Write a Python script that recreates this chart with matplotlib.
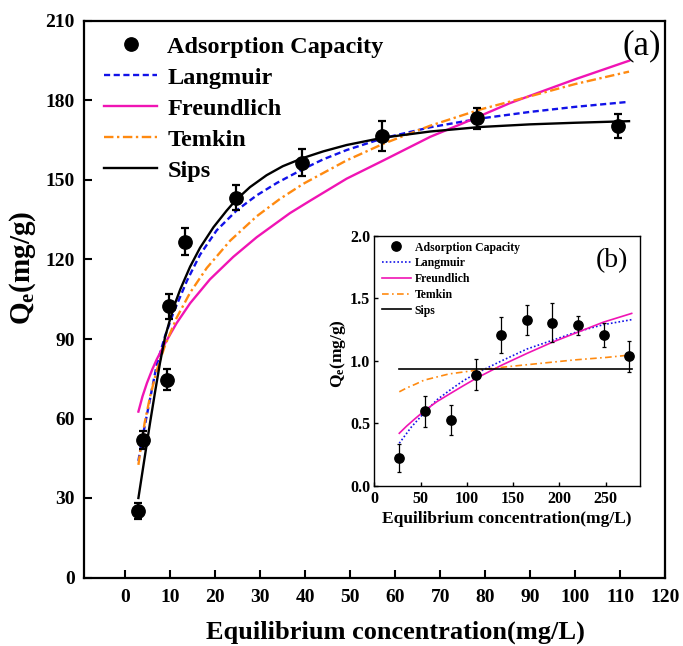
import matplotlib
matplotlib.use("Agg")
import matplotlib.pyplot as plt
from matplotlib.ticker import FormatStrFormatter

plt.rcParams['font.family'] = ['Liberation Serif', 'DejaVu Serif']
plt.rcParams['font.weight'] = 'bold'
plt.rcParams['mathtext.fontset'] = 'custom'
plt.rcParams['mathtext.rm'] = 'Liberation Serif'
plt.rcParams['mathtext.bf'] = 'Liberation Serif:bold'
plt.rcParams['mathtext.it'] = 'Liberation Serif:italic'

# ---------------- main panel (a) data ----------------
ce_a = [2.9, 4.0, 9.3, 9.7, 13.3, 24.5, 39.3, 57.0, 78.2, 109.5]
qe_a = [25.0, 51.9, 74.6, 102.3, 126.7, 143.3, 156.6, 166.6, 173.3, 170.3]
err_a = [3.0, 3.5, 4.0, 4.7, 5.0, 4.7, 5.2, 5.5, 4.0, 4.6]

lang_x_a = [2.9, 3.6, 4.4, 5.5, 7.0, 8.8, 10.7, 13.7, 16.6, 20.3, 24.8, 29.2, 33.7, 39.6,
            44.0, 49.2, 57.4, 67.8, 78.9, 90, 100, 112]
lang_y_a = [44, 51, 58, 67.5, 80.5, 91, 100, 112, 121.8, 131, 138.6, 144.2, 148.9, 154.2,
            157.8, 161.3, 165.8, 169.9, 173.2, 175.7, 177.6, 179.5]

freu_x_a = [2.9, 3.8, 4.8, 6.0, 7.0, 8.8, 11.4, 14.4, 18.8, 24.0, 29.2, 36.6, 41.0, 49.2,
            57.4, 67.8, 75.9, 85.5, 100, 112]
freu_y_a = [62.6, 68.3, 73.4, 78.6, 82.4, 88.3, 96.0, 103.5, 112.5, 121.0, 128.4, 137.5, 142.1,
            150.5, 157.4, 166.3, 172.0, 179.0, 188.0, 195.0]

temk_x_a = [2.9, 3.5, 4.3, 5.5, 7.0, 8.8, 11.4, 14.4, 18.1, 23.3, 29.2, 34.4, 39.6, 49.2,
            57.4, 67.8, 78.9, 90, 100, 112]
temk_y_a = [42.5, 50, 58.5, 68.3, 78.3, 87.5, 98, 107.5, 116.8, 127.1, 136.3, 142.9, 148.6,
            157.4, 163.7, 170.5, 176.6, 181.6, 186.2, 190.9]

sips_x_a = [2.9, 4.4, 5.5, 6.6, 7.7, 8.8, 10, 11, 12.2, 14.4, 16.6, 19.6, 22.5, 24.5,
            27.7, 31.4, 35, 39.5, 44, 49.2, 57.4, 67.8, 78.9, 90, 100, 112]
sips_y_a = [30, 46.5, 58.5, 70, 81, 90.5, 97.8, 103.2, 108.7, 117.3, 124.4, 132.2, 138.4, 142.3,
            147.3, 151.8, 155.2, 158.3, 160.8, 163.2, 166.0, 168.3, 170.0, 171.0, 171.6, 172.2]

xticks_a = list(range(0, 121, 10))
yticks_a = list(range(0, 211, 30))

# ---------------- inset panel (b) data ----------------
ce_b = [27, 54.7, 82.4, 109.5, 137.3, 164.7, 192.3, 220, 247.8, 275.2]
qe_b = [0.22, 0.595, 0.525, 0.888, 1.205, 1.325, 1.305, 1.285, 1.205, 1.035]
err_b = [0.113, 0.127, 0.12, 0.123, 0.144, 0.12, 0.155, 0.075, 0.097, 0.125]

lang_x_b = [27, 33, 40, 55, 68, 82.5, 96, 110, 137.5, 165, 192.5, 220, 247.5, 278]
lang_y_b = [0.34, 0.40, 0.47, 0.593, 0.69, 0.77, 0.84, 0.90, 1.0, 1.095, 1.165, 1.235, 1.29, 1.33]

freu_x_b = [27, 35, 45, 55, 68, 82.5, 96, 110, 137.5, 165, 192.5, 220, 247.5, 278]
freu_y_b = [0.42, 0.478, 0.543, 0.605, 0.675, 0.74, 0.80, 0.86, 0.965, 1.06, 1.15, 1.23, 1.31, 1.38]

temk_x_b = [27, 35, 45, 53.6, 80.6, 107.6, 143.6, 179.6, 215.5, 251.5, 278]
temk_y_b = [0.752, 0.783, 0.815, 0.845, 0.895, 0.922, 0.953, 0.98, 1.007, 1.028, 1.048]

sips_x_b = [27, 278]
sips_y_b = [0.935, 0.935]

xticks_b = [0, 50, 100, 150, 200, 250]
yticks_b = [0.0, 0.5, 1.0, 1.5, 2.0]

labels = ['Adsorption Capacity', 'Langmuir', 'Freundlich', 'Temkin', 'Sips']

C_BLUE = '#1212E8'
C_MAG = '#F014B4'
C_ORA = '#FF8A10'
C_BLK = '#000000'

W, H = 683, 646
fig = plt.figure(figsize=(W / 100, H / 100), dpi=100)

def fx(px):
    return px / W

def fy(py):
    return 1 - py / H

# ---------------- main axes ----------------
ax = fig.add_axes([fx(84), fy(577.5), (665 - 84) / W, (577.5 - 21) / H])
ax.set_xlim(-9.2, 120)
ax.set_ylim(0, 210)

lw = 1.7
ax.plot(lang_x_a, lang_y_a, color=C_BLUE, lw=lw, dashes=(2.6, 1.5), label=labels[1], zorder=2)
ax.plot(freu_x_a, freu_y_a, color=C_MAG, lw=lw, label=labels[2], zorder=2)
ax.plot(temk_x_a, temk_y_a, color=C_ORA, lw=lw, dashes=(4.0, 1.5, 1.0, 1.5), label=labels[3], zorder=2)
ax.plot(sips_x_a, sips_y_a, color=C_BLK, lw=lw, label=labels[4], zorder=2)
ax.errorbar(ce_a, qe_a, yerr=err_a, fmt='none', ecolor='black', elinewidth=1.6,
            capsize=3.2, capthick=1.6, zorder=3)
ax.plot(ce_a, qe_a, 'o', color='black', ms=9.6, label=labels[0], zorder=4)

ax.set_xticks(xticks_a)
ax.set_yticks(yticks_a)
ax.tick_params(axis='both', direction='in', length=6, width=1.5, labelsize=14,
               top=False, right=False)
ax.tick_params(axis='x', pad=8.5)
ax.tick_params(axis='y', pad=6.5)
for s in ax.spines.values():
    s.set_linewidth(1.6)

h, l = ax.get_legend_handles_labels()
order = [l.index(t) for t in labels]
ax.legend([h[i] for i in order], [l[i] for i in order],
          loc='upper left', bbox_to_anchor=(fx(104), fy(35.5)),
          bbox_transform=fig.transFigure, frameon=False, fontsize=17.5,
          handlelength=2.2, handletextpad=0.4, labelspacing=0.37,
          borderpad=0, borderaxespad=0, numpoints=1)

fig.text(fx(642), fy(46), '(a)', fontsize=25, fontweight='normal', ha='center', va='center')
fig.text(fx(395), fy(632), 'Equilibrium concentration(mg/L)', fontsize=19,
         fontweight='bold', ha='center', va='center')
fig.text(fx(23), fy(268), r'$\mathbf{Q_e}$(mg/g)', fontsize=21, fontweight='bold',
         rotation=90, ha='center', va='center')

# ---------------- inset axes ----------------
ax2 = fig.add_axes([fx(374.3), fy(485.7), (640 - 374.3) / W, (485.7 - 236) / H])
ax2.set_xlim(0, 287)
ax2.set_ylim(0, 2.0)
lw2 = 1.2
ax2.plot(lang_x_b, lang_y_b, color=C_BLUE, lw=lw2, dashes=(1.0, 1.3), label=labels[1], zorder=2)
ax2.plot(freu_x_b, freu_y_b, color=C_MAG, lw=lw2, label=labels[2], zorder=2)
ax2.plot(temk_x_b, temk_y_b, color=C_ORA, lw=lw2, dashes=(4.0, 2.0, 1.0, 2.0), label=labels[3], zorder=2)
ax2.plot(sips_x_b, sips_y_b, color=C_BLK, lw=lw2, label=labels[4], zorder=2)
ax2.errorbar(ce_b, qe_b, yerr=err_b, fmt='none', ecolor='black', elinewidth=0.9,
             capsize=1.4, capthick=0.9, zorder=3)
ax2.plot(ce_b, qe_b, 'o', color='black', ms=6.7, label=labels[0], zorder=4)
ax2.set_xticks(xticks_b)
ax2.set_yticks(yticks_b)
ax2.yaxis.set_major_formatter(FormatStrFormatter('%.1f'))
ax2.tick_params(axis='both', direction='in', length=3, width=1.0, labelsize=11.5,
                top=False, right=False)
ax2.tick_params(axis='x', pad=4)
ax2.tick_params(axis='y', pad=3)
for s in ax2.spines.values():
    s.set_linewidth(1.0)

h2, l2 = ax2.get_legend_handles_labels()
order2 = [l2.index(t) for t in labels]
ax2.legend([h2[i] for i in order2], [l2[i] for i in order2],
           loc='upper left', bbox_to_anchor=(fx(381.7), fy(241.5)),
           bbox_transform=fig.transFigure, frameon=False, fontsize=8.5,
           handlelength=2.45, handletextpad=0.36, labelspacing=0.32,
           borderpad=0, borderaxespad=0, numpoints=1)

fig.text(fx(612), fy(261), '(b)', fontsize=20, fontweight='normal', ha='center', va='center')
fig.text(fx(507), fy(519), 'Equilibrium concentration(mg/L)', fontsize=12.5,
         fontweight='bold', ha='center', va='center')
fig.text(fx(338), fy(354), r'$\mathbf{Q_e}$(mg/g)', fontsize=12.5, fontweight='bold',
         rotation=90, ha='center', va='center')

fig.savefig('out.png', dpi=100)
